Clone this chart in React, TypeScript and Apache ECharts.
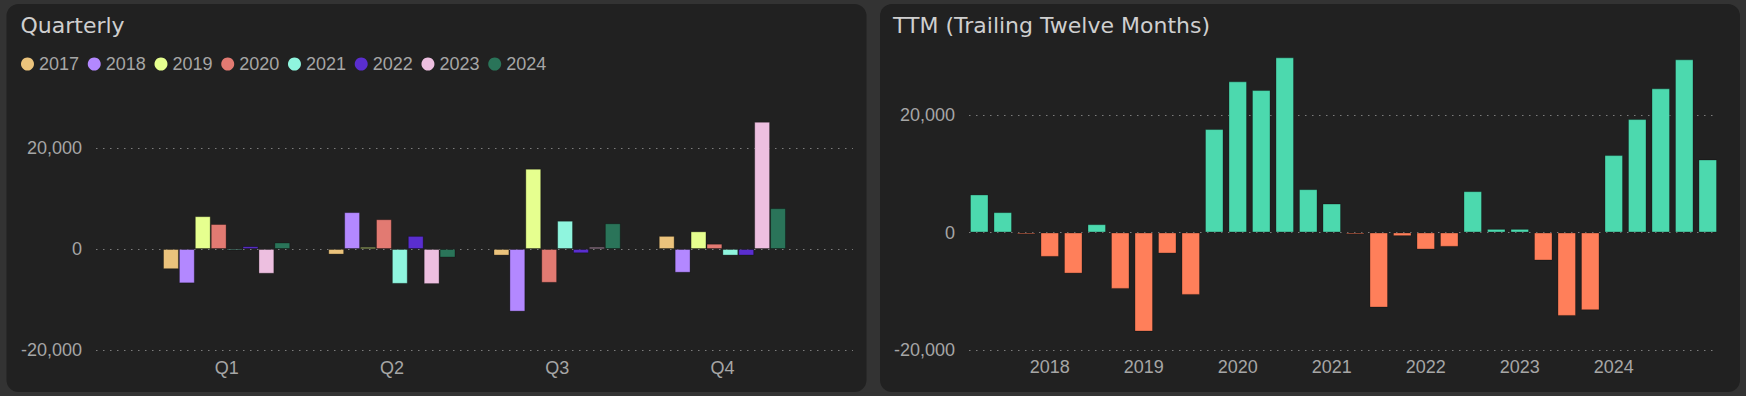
import { useEffect, useRef } from 'react';
import * as echarts from 'echarts';

// ---------- Quarterly panel data ----------
const quarterCategories = ['Q1', 'Q2', 'Q3', 'Q4'];
const yearNames = ['2017', '2018', '2019', '2020', '2021', '2022', '2023', '2024'];
const q2017 = [-4000, -1100, -1300, 2600];
const q2018 = [-6800, 7300, -12400, -4700];
const q2019 = [6500, 400, 15900, 3500];
const q2020 = [4950, 5900, -6700, 1050];
const q2021 = [-300, -6900, 5600, -1300];
const q2022 = [550, 2600, -850, -1300];
const q2023 = [-4900, -6950, 400, 25200];
const q2024 = [1300, -1700, 5100, 8100];
const yearValues = [q2017, q2018, q2019, q2020, q2021, q2022, q2023, q2024];
const yearColors = ['#EBC37C', '#B388FF', '#E6FF8F', '#E27A72', '#8FF5DE', '#5A2ECF', '#EDBFE0', '#2A7459'];

// ---------- TTM panel data ----------
const ttmCategories = [
  '2017 Q1', '2017 Q2', '2017 Q3', '2017 Q4',
  '2018 Q1', '2018 Q2', '2018 Q3', '2018 Q4',
  '2019 Q1', '2019 Q2', '2019 Q3', '2019 Q4',
  '2020 Q1', '2020 Q2', '2020 Q3', '2020 Q4',
  '2021 Q1', '2021 Q2', '2021 Q3', '2021 Q4',
  '2022 Q1', '2022 Q2', '2022 Q3', '2022 Q4',
  '2023 Q1', '2023 Q2', '2023 Q3', '2023 Q4',
  '2024 Q1', '2024 Q2', '2024 Q3', '2024 Q4',
];
const ttmValues = [
  6480, 3470, -300, -4150,
  -6990, 1420, -9600, -16870,
  -3580, -10620, 17610, 25730,
  24250, 29820, 7380, 4940,
  -300, -12780, -620, -2900,
  -2440, 7040, 620, 620,
  -4770, -14200, -13230, 13180,
  19310, 24540, 29480, 12440,
];
const ttmYearTicks = ['2018', '2019', '2020', '2021', '2022', '2023', '2024'];
const yTickStep = 20000;

const LABEL_FONT = '"Liberation Sans", Arial, sans-serif';
const TITLE_FONT = '"DejaVu Sans", sans-serif';
const LABEL_COLOR = '#a6a6a6';

export default function App() {
  const ref = useRef<HTMLDivElement>(null);

  useEffect(() => {
    if (!ref.current) return;
    const chart = echarts.init(ref.current, undefined, { renderer: 'svg' });

    const splitLine = {
      show: true,
      showMaxLine: false,
      lineStyle: { color: '#7c7c7c', type: [1.5, 5.5], width: 1 },
    };
    const yLabel = {
      color: LABEL_COLOR,
      fontSize: 18,
      fontFamily: LABEL_FONT,
      margin: 14,
      showMaxLabel: false,
      formatter: (v: number) => (v % yTickStep === 0 ? v.toLocaleString('en-US') : ''),
    };

    const leftTop = 107.6;
    const leftH = 242.4;
    const rightTop = 50.4;
    const rightH = 299.6;

    const option: any = {
      animation: false,
      backgroundColor: '#333333',
      graphic: [
        {
          type: 'rect', z: -10, silent: true,
          shape: { x: 6.5, y: 4, width: 860, height: 388, r: 12 },
          style: { fill: '#212121' },
        },
        {
          type: 'rect', z: -10, silent: true,
          shape: { x: 880, y: 4, width: 860, height: 388, r: 12 },
          style: { fill: '#212121' },
        },
        {
          type: 'text', x: 20.5, y: 25, silent: true,
          style: { text: 'Quarterly', fill: '#cfcfcf', fontSize: 22, fontFamily: TITLE_FONT, verticalAlign: 'middle' },
        },
        {
          type: 'text', x: 893, y: 25, silent: true,
          style: { text: 'TTM (Trailing Twelve Months)', fill: '#cfcfcf', fontSize: 22, fontFamily: TITLE_FONT, verticalAlign: 'middle' },
        },
      ],
      legend: {
        data: yearNames,
        left: 21,
        top: 55,
        padding: 0,
        icon: 'circle',
        itemWidth: 13,
        itemHeight: 13,
        itemGap: 8.7,
        selectedMode: false,
        itemStyle: { borderWidth: 0 },
        textStyle: { color: LABEL_COLOR, fontSize: 18, fontFamily: LABEL_FONT },
      },
      grid: [
        { left: 96, top: leftTop, width: 757, height: leftH, outerBoundsMode: 'none' },
        { left: 144, top: leftTop, width: 661, height: leftH, outerBoundsMode: 'none' },
        { left: 969, top: rightTop, width: 745, height: rightH, outerBoundsMode: 'none' },
        { left: 967.5, top: rightTop, width: 752, height: rightH, outerBoundsMode: 'none' },
      ],
      xAxis: [
        { gridIndex: 0, type: 'value', show: false, min: 0, max: 1 },
        {
          gridIndex: 1, type: 'category', data: quarterCategories,
          axisLine: { show: false }, axisTick: { show: false },
          axisLabel: { color: LABEL_COLOR, fontSize: 18, fontFamily: LABEL_FONT, margin: 9, interval: 0 },
        },
        { gridIndex: 2, type: 'value', show: false, min: 0, max: 1 },
        {
          gridIndex: 3, type: 'category', data: ttmCategories,
          axisLine: { show: false }, axisTick: { show: false },
          axisLabel: {
            color: LABEL_COLOR, fontSize: 18, fontFamily: LABEL_FONT, margin: 8, interval: 0,
            formatter: (_v: string, i: number) => (i % 4 === 3 ? ttmYearTicks[(i - 3) / 4] : ''),
          },
        },
      ],
      yAxis: [
        {
          gridIndex: 0, type: 'value', min: -20000, max: 28000, interval: yTickStep,
          axisLine: { show: false }, axisTick: { show: false }, axisLabel: yLabel, splitLine,
        },
        { gridIndex: 1, type: 'value', min: -20000, max: 28000, interval: yTickStep, show: false, splitLine: { show: false } },
        {
          gridIndex: 2, type: 'value', min: -20000, max: 31000, interval: yTickStep,
          axisLine: { show: false }, axisTick: { show: false }, axisLabel: yLabel, splitLine,
        },
        { gridIndex: 3, type: 'value', min: -20000, max: 31000, interval: yTickStep, show: false, splitLine: { show: false } },
      ],
      series: [
        ...yearValues.map((d, i) => ({
          type: 'bar',
          name: yearNames[i],
          xAxisIndex: 1,
          yAxisIndex: 1,
          data: d,
          barGap: '0%',
          barCategoryGap: '23%',
          itemStyle: { color: yearColors[i], borderColor: 'rgba(0,0,0,0.3)', borderWidth: 1 },
        })),
        {
          type: 'bar',
          name: 'TTM',
          xAxisIndex: 3,
          yAxisIndex: 3,
          data: ttmValues,
          barCategoryGap: '21%',
          itemStyle: {
            color: (p: any) => (p.value >= 0 ? '#4CD9AE' : '#FF7F5A'),
            borderColor: 'rgba(0,0,0,0.3)',
            borderWidth: 1,
          },
        },
      ],
    };

    chart.setOption(option);
    return () => chart.dispose();
  }, []);

  return (
    <div
      ref={ref}
      style={{ position: 'fixed', left: 0, top: 0, width: 1746, height: 396 }}
    />
  );
}
